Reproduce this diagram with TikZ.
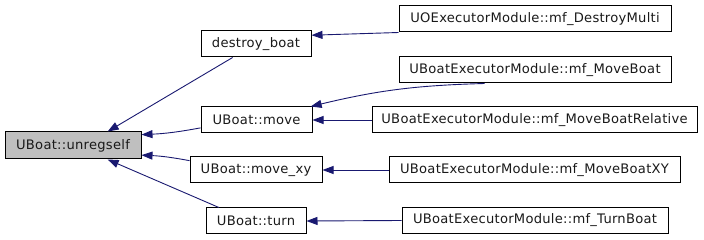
\documentclass[tikz,border=0pt]{standalone}
\usepackage{fontspec}
\setmainfont{DejaVu Sans}[LetterSpace=2]
\usetikzlibrary{arrows.meta}
\definecolor{edgeblue}{RGB}{25,25,112}
\definecolor{rootgray}{RGB}{191,191,191}
\tikzset{
  fn/.style={draw=black, line width=1pt, minimum height=26pt, inner sep=0pt,
    font=\fontsize{13.1}{15}\selectfont, text=black!90},
  rootfn/.style={fn, fill=rootgray},
  call/.style={draw=edgeblue, line width=0.9pt, -{Triangle[length=11pt,width=8pt]}}
}
\begin{document}
\begin{tikzpicture}[x=1pt,y=-1pt]
\useasboundingbox (0,0) rectangle (704,240);
% left column
\node[rootfn, minimum width=136pt, minimum height=27pt] (ur) at (73,145.5) {UBoat::unregself};
% middle column
\node[fn, minimum width=110pt] (db) at (256,44) {destroy\_boat};
\node[fn, minimum width=111pt] (mv) at (256.5,120) {UBoat::move};
\node[fn, minimum width=132pt] (mx) at (256,170) {UBoat::move\_xy};
\node[fn, minimum width=100pt] (tu) at (256,221) {UBoat::turn};
% right column
\node[fn, minimum width=272pt] (dm) at (535,19) {UOExecutorModule::mf\_DestroyMulti};
\node[fn, minimum width=272pt] (mb) at (535,70) {UBoatExecutorModule::mf\_MoveBoat};
\node[fn, minimum width=325pt] (mr) at (534.5,120) {UBoatExecutorModule::mf\_MoveBoatRelative};
\node[fn, minimum width=291pt] (mxy) at (534.5,170) {UBoatExecutorModule::mf\_MoveBoatXY};
\node[fn, minimum width=266pt] (tb) at (535,220.5) {UBoatExecutorModule::mf\_TurnBoat};
% edges into the left column
\draw[call] (db.210) -- (ur.22);
\draw[call] (mv.188) to[bend left=4] (ur.9);
\draw[call] (mx.172) to[bend right=4] (ur.-8);
\draw[call] (tu.160) -- (ur.-22);
% edges into the middle column
\draw[call] (dm.south west) -- (db.9);
\draw[call] (mb.-165) to[bend right=6] (mv.14);
\draw[call] (mr.west) -- (mv.east);
\draw[call] (mxy.west) -- (mx.east);
\draw[call] (tb.west) -- (tu.east);
\end{tikzpicture}
\end{document}
